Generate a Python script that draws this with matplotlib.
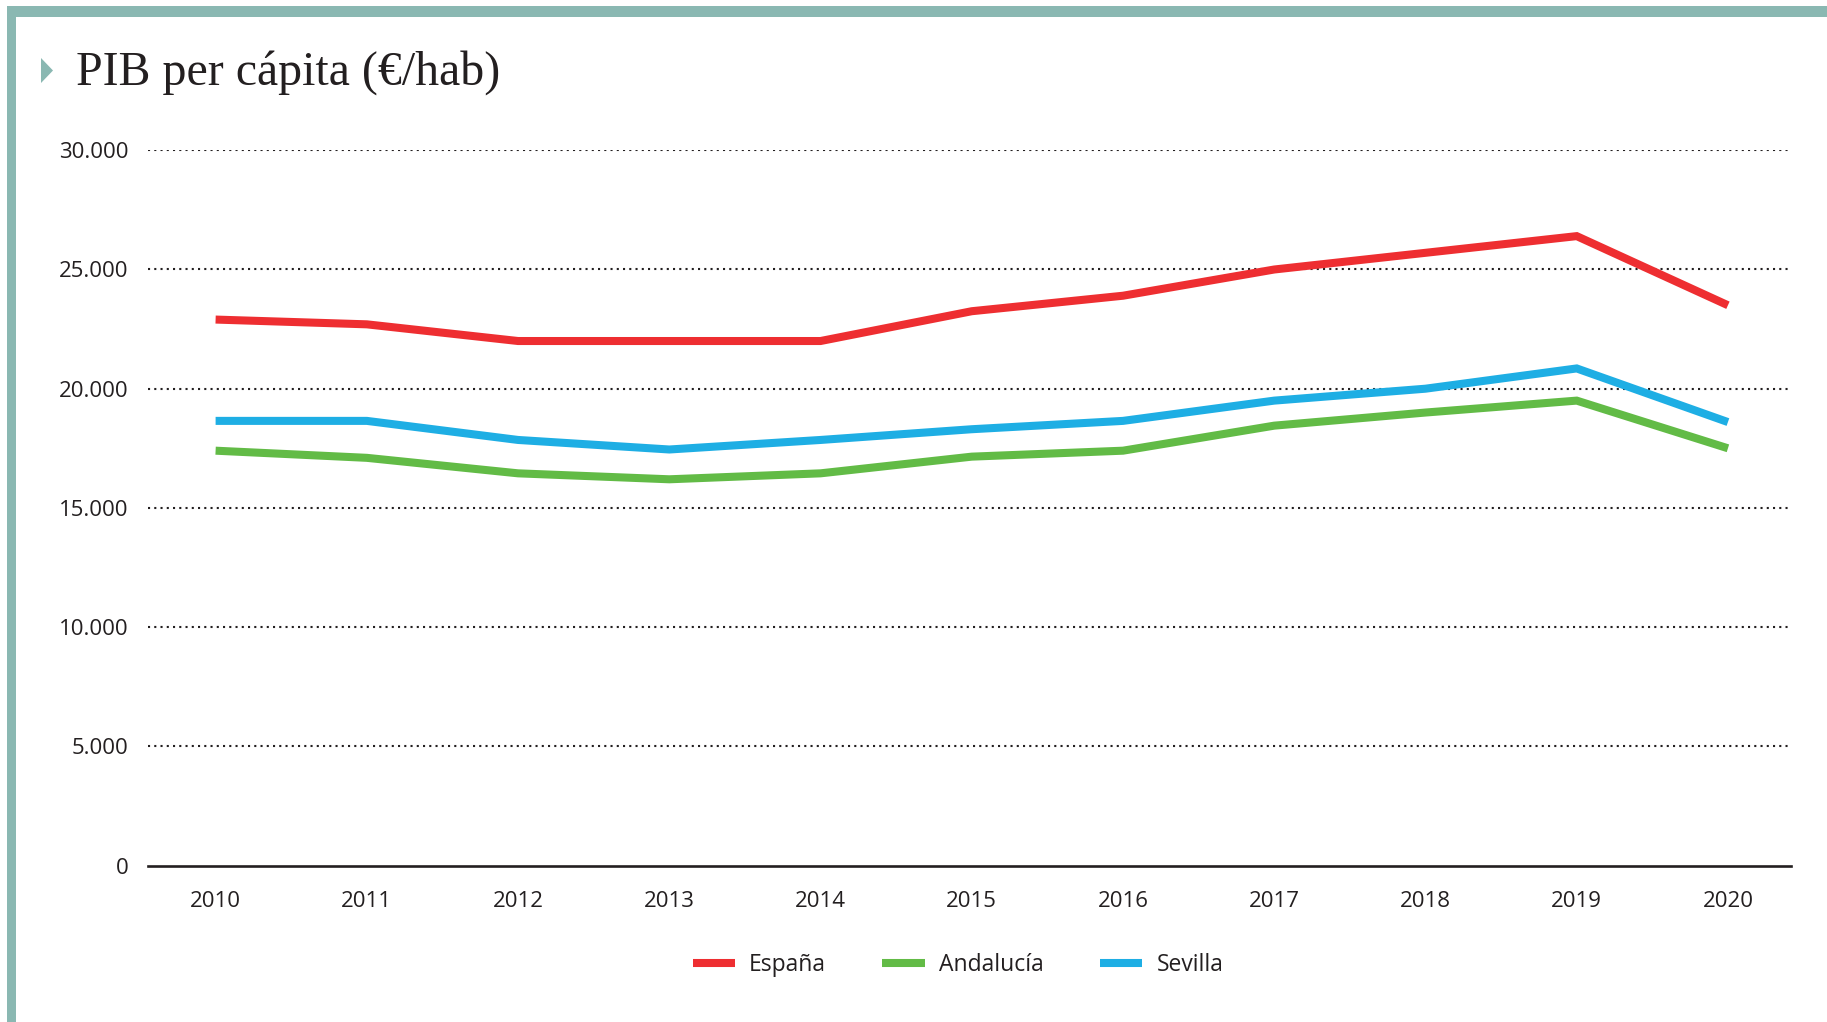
import matplotlib
matplotlib.use("Agg")
import matplotlib.pyplot as plt
from matplotlib.patches import Rectangle, Polygon
from matplotlib.lines import Line2D
from matplotlib.ticker import FuncFormatter

years = [2010, 2011, 2012, 2013, 2014, 2015, 2016, 2017, 2018, 2019, 2020]
espana = [22900, 22700, 22000, 22000, 22000, 23250, 23900, 25000, 25700, 26400, 23500]
andalucia = [17400, 17100, 16450, 16200, 16450, 17150, 17400, 18450, 19000, 19500, 17500]
sevilla = [18650, 18650, 17850, 17450, 17850, 18300, 18650, 19500, 20000, 20850, 18600]
series_names = ["España", "Andalucía", "Sevilla"]
colors = ["#ee2e31", "#62bb46", "#1eaee4"]
yticks = [0, 5000, 10000, 15000, 20000, 25000, 30000]
title = "PIB per cápita (€/hab)"

W, H = 1827, 1022
fig = plt.figure(figsize=(W / 100, H / 100), dpi=100)
fig.patch.set_facecolor("white")

def fx(px):
    return px / W

def fy(py):
    return 1 - py / H

frame_col = "#8ab8b2"
fig.patches.append(Rectangle((fx(7), fy(17)), fx(W - 7), 11 / H, transform=fig.transFigure,
                             facecolor=frame_col, edgecolor="none", zorder=0))
fig.patches.append(Rectangle((fx(7), 0), 9 / W, fy(6), transform=fig.transFigure,
                             facecolor=frame_col, edgecolor="none", zorder=0))
fig.patches.append(Polygon([(fx(41), fy(58)), (fx(53), fy(70.5)), (fx(41), fy(83))],
                           closed=True, transform=fig.transFigure, facecolor=frame_col,
                           edgecolor="none"))
fig.text(fx(76), fy(85), title, family="Liberation Serif", fontsize=34.5, color="#231f20",
         va="baseline", ha="left")

left, right, bottom, top = 148, 1791, 865.5, 150.3
ax = fig.add_axes([fx(left), fy(bottom), fx(right - left), (bottom - top) / H])

text_col = "#231f20"
font = "Open Sans"
for vals, name, c in zip([espana, andalucia, sevilla], series_names, colors):
    ax.plot(years, vals, color=c, lw=5.8, solid_joinstyle="miter", solid_capstyle="butt",
            label=name, zorder=3)

ax.set_xlim(2009.553, 2020.417)
ax.set_ylim(0, 30000)
ax.set_xticks(years)
ax.set_yticks(yticks)
ax.yaxis.set_major_formatter(FuncFormatter(lambda v, p: f"{int(v):,}".replace(",", ".")))
ax.tick_params(axis="both", length=0, labelsize=16, labelcolor=text_col)
ax.tick_params(axis="x", pad=18)
ax.tick_params(axis="y", pad=14)
for lab in ax.get_xticklabels() + ax.get_yticklabels():
    lab.set_family(font)

for s in ["top", "right", "left"]:
    ax.spines[s].set_visible(False)
ax.spines["bottom"].set_color(text_col)
ax.spines["bottom"].set_linewidth(1.9)
ax.yaxis.grid(True, color="#231f20", linestyle=(0, (1, 2)), linewidth=1.5)
ax.set_axisbelow(True)
ax.get_ygridlines()[0].set_visible(False)

handles = [Line2D([0], [0], color=c, lw=5.8, solid_capstyle="butt") for c in colors]
fig.legend(handles, series_names, loc="center", bbox_to_anchor=(fx(958), fy(965)),
           ncol=3, frameon=False, prop={"family": font, "size": 16.5},
           handlelength=1.85, handletextpad=0.62, columnspacing=2.45, labelcolor=text_col)

fig.savefig("out.png", dpi=100, facecolor="white")
